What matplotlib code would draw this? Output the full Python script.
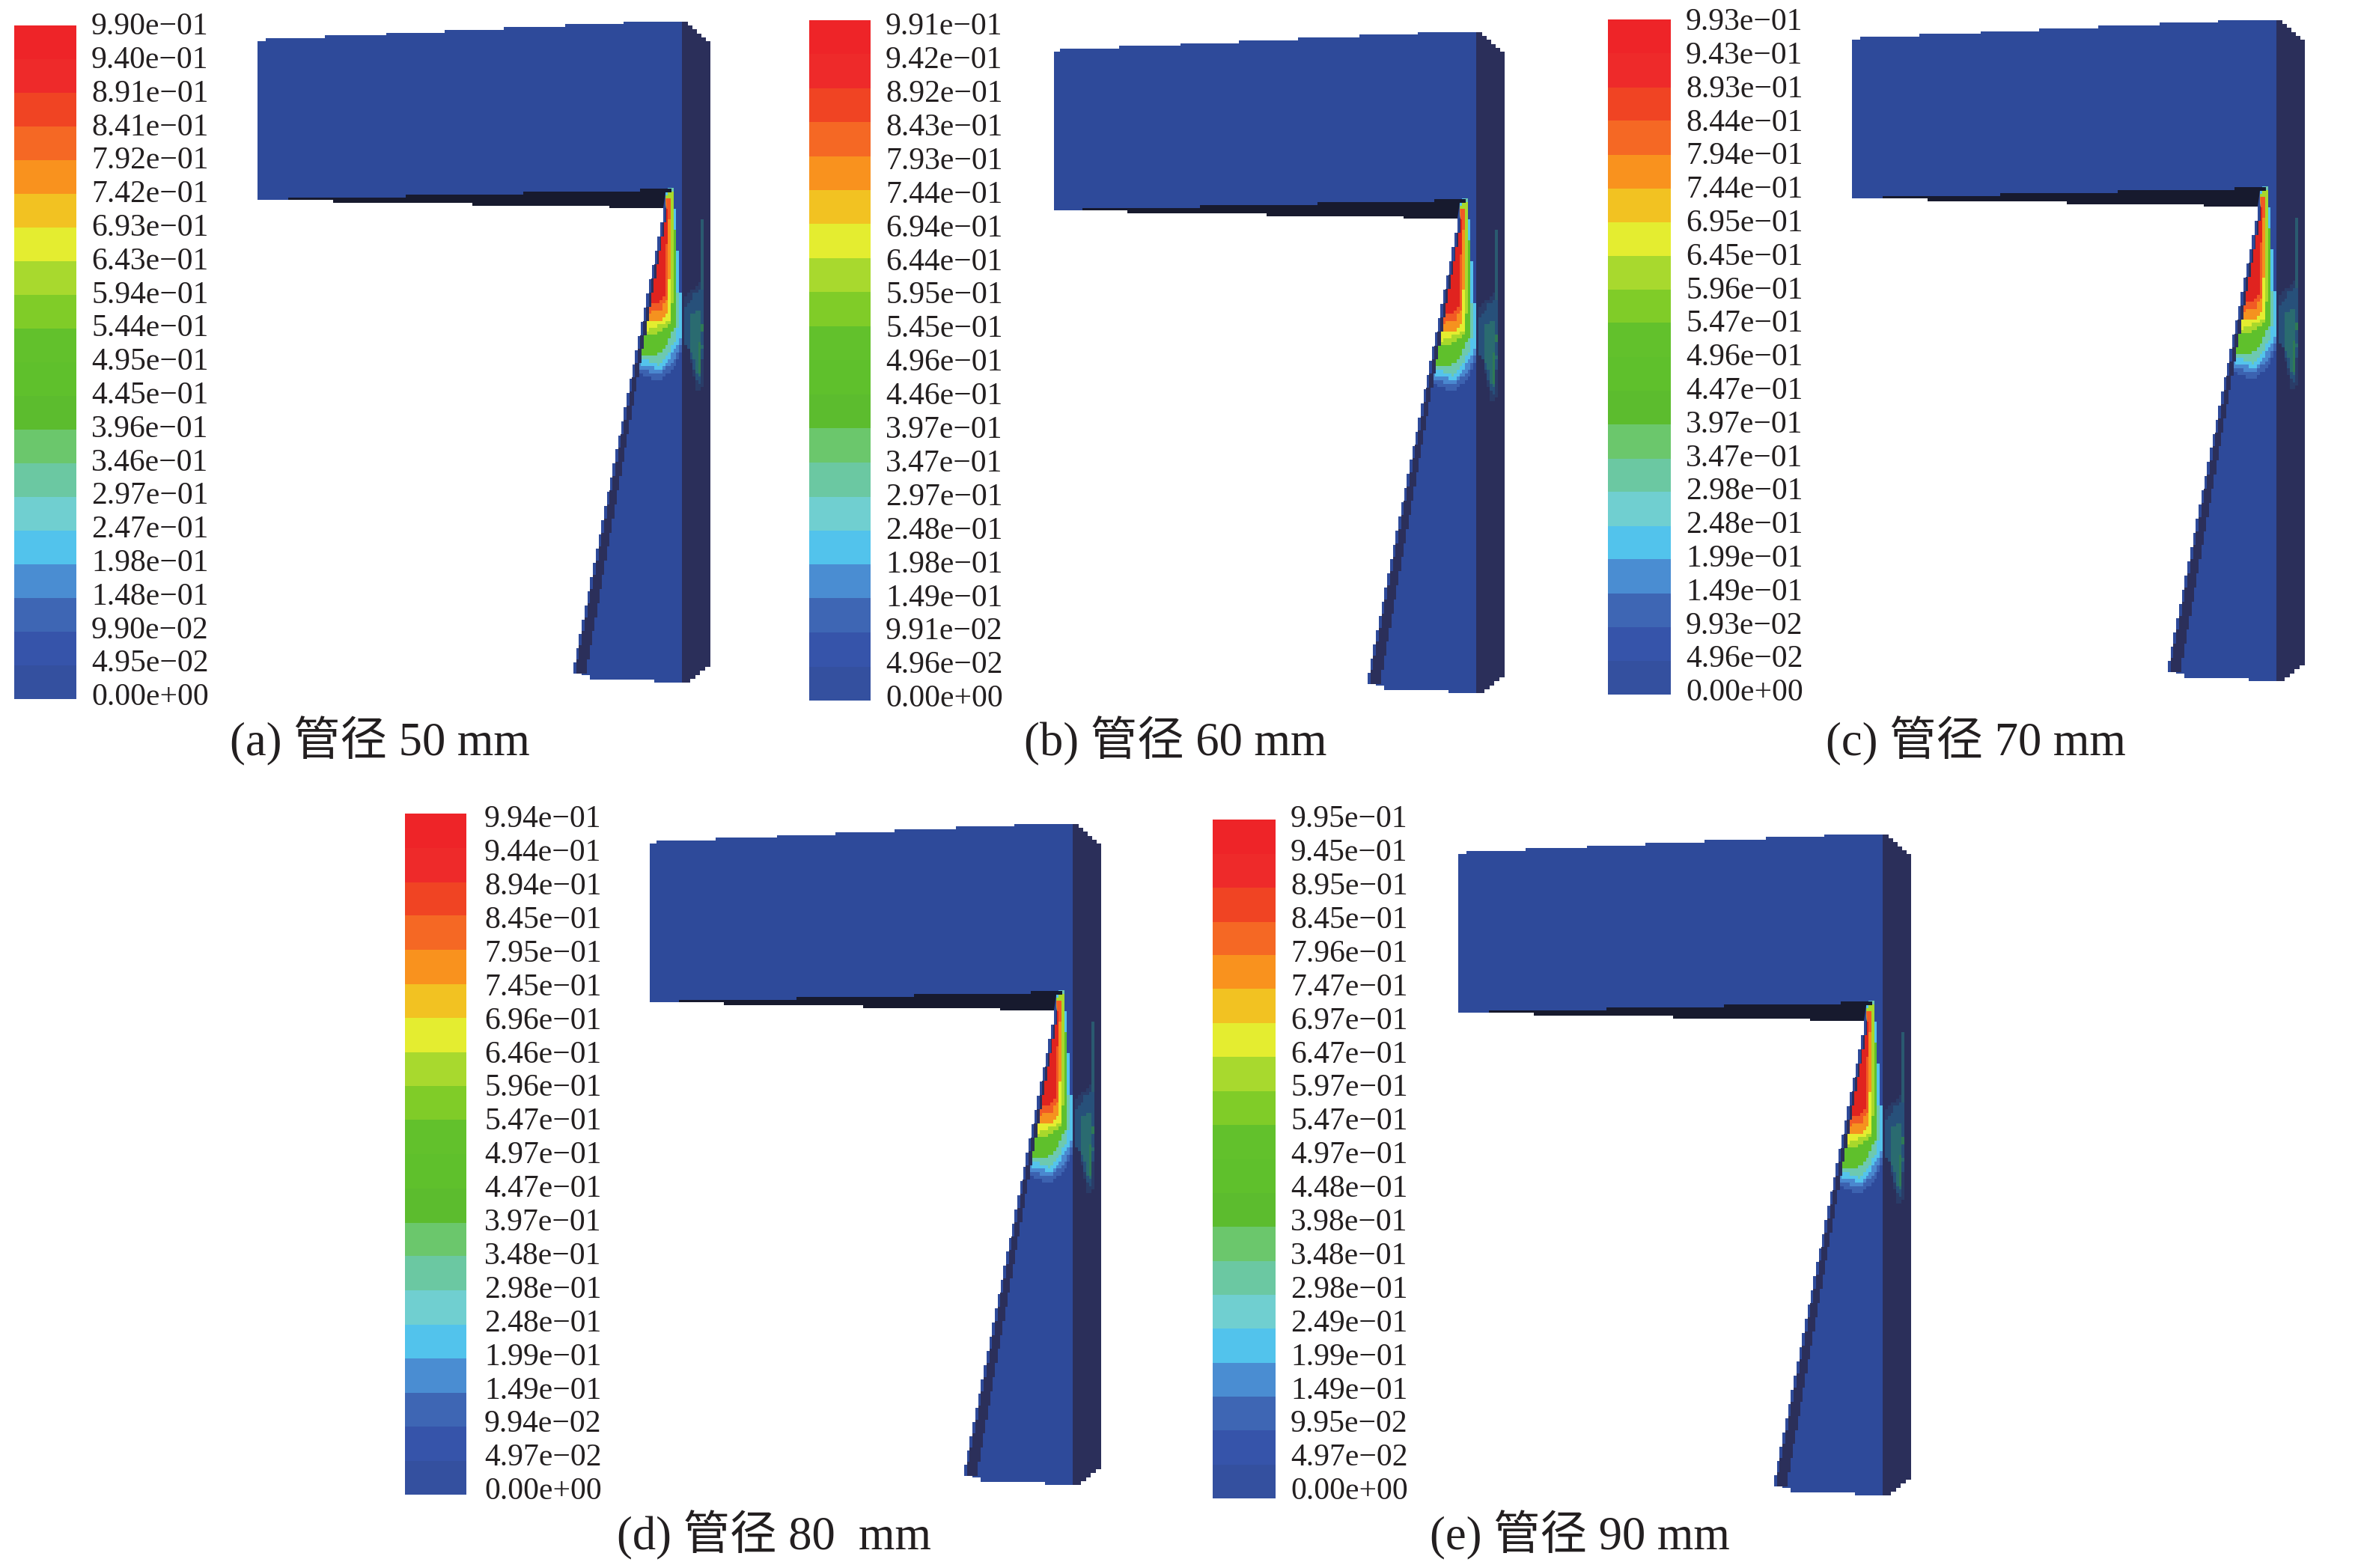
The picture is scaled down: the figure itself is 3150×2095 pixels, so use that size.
import numpy as np
import matplotlib
matplotlib.use('Agg')
import matplotlib.pyplot as plt
from matplotlib.colors import ListedColormap, BoundaryNorm
from matplotlib.patches import Polygon

plt.rcParams['font.family'] = ['Liberation Serif', 'Noto Sans CJK SC']

levels_a = [9.90e-01, 9.40e-01, 8.91e-01, 8.41e-01, 7.92e-01, 7.42e-01, 6.93e-01, 6.43e-01, 5.94e-01, 5.44e-01, 4.95e-01,
            4.45e-01, 3.96e-01, 3.46e-01, 2.97e-01, 2.47e-01, 1.98e-01, 1.48e-01, 9.90e-02, 4.95e-02, 0.0]
levels_b = [9.91e-01, 9.42e-01, 8.92e-01, 8.43e-01, 7.93e-01, 7.44e-01, 6.94e-01, 6.44e-01, 5.95e-01, 5.45e-01, 4.96e-01,
            4.46e-01, 3.97e-01, 3.47e-01, 2.97e-01, 2.48e-01, 1.98e-01, 1.49e-01, 9.91e-02, 4.96e-02, 0.0]
levels_c = [9.93e-01, 9.43e-01, 8.93e-01, 8.44e-01, 7.94e-01, 7.44e-01, 6.95e-01, 6.45e-01, 5.96e-01, 5.47e-01, 4.96e-01,
            4.47e-01, 3.97e-01, 3.47e-01, 2.98e-01, 2.48e-01, 1.99e-01, 1.49e-01, 9.93e-02, 4.96e-02, 0.0]
levels_d = [9.94e-01, 9.44e-01, 8.94e-01, 8.45e-01, 7.95e-01, 7.45e-01, 6.96e-01, 6.46e-01, 5.96e-01, 5.47e-01, 4.97e-01,
            4.47e-01, 3.97e-01, 3.48e-01, 2.98e-01, 2.48e-01, 1.99e-01, 1.49e-01, 9.94e-02, 4.97e-02, 0.0]
levels_e = [9.95e-01, 9.45e-01, 8.95e-01, 8.45e-01, 7.96e-01, 7.47e-01, 6.97e-01, 6.47e-01, 5.97e-01, 5.47e-01, 4.97e-01,
            4.48e-01, 3.98e-01, 3.48e-01, 2.98e-01, 2.49e-01, 1.99e-01, 1.49e-01, 9.95e-02, 4.97e-02, 0.0]

captions = ['(a) 管径 50 mm', '(b) 管径 60 mm', '(c) 管径 70 mm', '(d) 管径 80  mm', '(e) 管径 90 mm']

# top band first
band_colors = ['#ee2428', '#ee2a2a', '#f04423', '#f56824', '#f9921e', '#f2c222', '#e4ed30', '#a8d92e', '#80cc28', '#62c12c',
               '#5fc02c', '#5cbc2e', '#6bc76c', '#6bc8a2', '#70cfd0', '#52c3ec', '#4a8dd2', '#3e66b4', '#3654aa', '#34509f']

FACE = '#2e4a9a'
SIDE = '#2b2f5a'
DARK = '#171a2e'

# pixel layout of each panel: model offset, left edge trim, bar box, label column, caption start
model_off = [(0, 0), (1061, 14), (2130, -2), (522, 1072), (1604, 1086)]
left_trim = [0, 3, 0, 2, 0]
bar_box = [(19, 102, 34, 934), (1081, 1163, 27, 936), (2148, 2232, 26, 928), (541, 623, 1087, 1997), (1620, 1704, 1095, 2002)]
label_col = [(122, 36, 932), (1183, 36, 934), (2252, 30, 926), (647, 1095, 1993), (1724, 1095, 1993)]
caption_pos = [(307, 990), (1368, 990), (2439, 990), (824, 2051), (1910, 2051)]

top_edge = [(355, 51), (434, 51), (434, 47), (516, 47), (516, 44), (594, 44), (594, 40), (673, 40),
            (673, 36), (755, 36), (755, 32), (833, 32), (833, 29), (911, 29)]
under_top = [(385, 264), (542, 264), (542, 260), (699, 260), (699, 256), (855, 256), (855, 252), (897, 252), (897, 257), (889, 257)]
under_bottom = [(886, 278), (814, 278), (814, 275), (631, 275), (631, 271), (445, 271), (445, 267), (385, 267)]
foot_edge = [(911, 912), (874, 912), (874, 908), (788, 908), (788, 902), (777, 902), (777, 900), (766, 900), (766, 904), (762, 904)]

# plume outlines outer to inner in zoom units (x=720+X/3, y=200+Y/3)
# left sides run past the dark strip, the clip cuts them
plume_colors = ['#3c62b0', '#4a88cf', '#54c4ec', '#6dc9b0', '#5fc02c', '#a8d82c', '#e4ed30', '#f5921f', '#f15a24', '#e0231f']
plume_shapes = [
    [(530, 150), (540, 150), (552, 400), (565, 560), (576, 640), (576, 790), (540, 880), (480, 925), (430, 910), (360, 870), (480, 200)],
    [(530, 150), (540, 150), (550, 400), (562, 560), (576, 640), (576, 770), (540, 845), (490, 895), (440, 890), (360, 860), (480, 200)],
    [(530, 150), (540, 150), (548, 300), (558, 450), (568, 600), (573, 700), (565, 770), (520, 840), (485, 885), (450, 872), (360, 850), (480, 200)],
    [(530, 160), (541, 160), (545, 450), (558, 600), (555, 750), (510, 830), (480, 862), (440, 845), (360, 830), (480, 200)],
    [(530, 165), (541, 165), (544, 300), (548, 500), (552, 600), (548, 700), (505, 800), (460, 830), (360, 810), (480, 200)],
    [(525, 170), (538, 170), (538, 400), (535, 590), (530, 690), (490, 730), (450, 740), (380, 760), (480, 200)],
    [(525, 190), (532, 190), (531, 590), (525, 680), (480, 705), (440, 720), (385, 745), (485, 200)],
    [(520, 190), (528, 190), (523, 500), (520, 640), (505, 678), (440, 692), (390, 700), (490, 200)],
    [(515, 195), (526, 195), (518, 400), (515, 600), (490, 640), (445, 652), (400, 680), (495, 200)],
    [(505, 240), (520, 240), (510, 400), (505, 590), (480, 612), (445, 625), (400, 640), (495, 240)],
]
# faint marks on the side face, same zoom units
side_colors = ['#2a3c68', '#2a5a70', '#27507a', '#2a6b70', '#2f7a55']
side_shapes = [
    [(578, 600), (625, 550), (650, 520), (662, 520), (662, 800), (655, 950), (635, 970), (600, 800), (578, 770)],
    [(653, 280), (665, 280), (665, 590), (653, 590)],
    [(578, 650), (625, 570), (660, 560), (660, 800), (642, 950), (600, 800), (578, 770)],
    [(600, 730), (610, 660), (650, 640), (655, 800), (642, 930), (610, 800)],
    [(640, 790), (655, 700), (652, 900), (642, 900)],
]


def stairs(p0, p1, n):
    # stepped outline between two points, the mesh blocks show up like this
    xs = np.linspace(p0[0], p1[0], n + 1)
    ys = np.linspace(p0[1], p1[1], n + 1)
    pts = []
    for i in range(n):
        pts.append((xs[i], ys[i]))
        pts.append((xs[i], ys[i + 1]))
    pts.append((xs[n], ys[n]))
    return pts


def blocky(pts, wx=11, wy=14):
    # snap an outline to the mesh size so contour bands look cell-wise
    out = []
    n = len(pts)
    for i in range(n):
        x0, y0 = pts[i]
        x1, y1 = pts[(i + 1) % n]
        for t in np.linspace(0, 1, 25, endpoint=False):
            x = round((x0 + (x1 - x0) * t) / wx) * wx
            y = round((y0 + (y1 - y0) * t) / wy) * wy
            if out and out[-1] == (x, y):
                continue
            if out and out[-1][0] != x and out[-1][1] != y:
                out.append((x, out[-1][1]))
            out.append((x, y))
    return out


def from_zoom(pts, dx, dy):
    return [(720 + x / 3 + dx, 200 + y / 3 + dy) for x, y in pts]


def shift(pts, dx, dy):
    return [(x + dx, y + dy) for x, y in pts]


def draw_model(ax, dx, dy, trim):
    outer = stairs((886, 278), (762, 904), 33)
    inner = stairs((890, 278), (781, 900), 33)
    strip_left = stairs((889, 278), (766, 900), 33)

    left_top = [(344 + trim, 55), (355, 55)]
    face_pts = left_top + top_edge + foot_edge + outer[::-1] + under_bottom[1:] + [(344 + trim, 267)]
    ax.add_patch(Polygon(shift(face_pts, dx, dy), closed=True, fc=FACE, ec='none', zorder=2))

    # plume stays right of the strip, the thin blue edge left of it keeps the face colour
    clip_pts = [(888, 240), (911, 240), (911, 900)] + inner[::-1]
    clip = Polygon(shift(clip_pts, dx, dy), closed=True, transform=ax.transData)
    for pts, c in zip(plume_shapes, plume_colors):
        p = Polygon(from_zoom(blocky(pts), dx, dy), closed=True, fc=c, ec='none', zorder=3)
        ax.add_patch(p)
        p.set_clip_path(clip)

    under = Polygon(shift(under_top + under_bottom, dx, dy), closed=True, fc=DARK, ec='none', zorder=4)
    ax.add_patch(under)
    strip = Polygon(shift(strip_left + inner[::-1], dx, dy), closed=True, fc=SIDE, ec='none', zorder=4)
    ax.add_patch(strip)

    side_pts = [(911, 29)] + stairs((919, 29), (949, 55), 5) + stairs((949, 886), (915, 912), 5) + [(911, 912)]
    ax.add_patch(Polygon(shift(side_pts, dx, dy), closed=True, fc=SIDE, ec='none', zorder=4))
    for pts, c in zip(side_shapes, side_colors):
        ax.add_patch(Polygon(from_zoom(blocky(pts), dx, dy), closed=True, fc=c, ec='none', zorder=5))


def draw_bar(ax, levels, box, col):
    x0, x1, y_top, y_bot = box
    vals = np.array(levels)
    edges = y_bot - vals / vals[0] * (y_bot - y_top)
    cmap = ListedColormap(band_colors)
    norm = BoundaryNorm(np.arange(21), 20)
    cells = np.arange(20).reshape(-1, 1)
    ax.pcolormesh([x0, x1], edges, cells, cmap=cmap, norm=norm, zorder=2, edgecolors='none')
    lab_x, lab_top, lab_bot = col
    for i, v in enumerate(levels):
        txt = f'{v:.2e}'.replace('-', '\u2212')
        y = lab_top + i * (lab_bot - lab_top) / 20
        ax.text(lab_x, y, txt, fontsize=30, ha='left', va='center', color='#231f20', zorder=6)


fig = plt.figure(figsize=(31.5, 20.95), dpi=100)
ax = fig.add_axes([0, 0, 1, 1])
ax.set_xlim(0, 3150)
ax.set_ylim(2095, 0)
ax.axis('off')

all_levels = [levels_a, levels_b, levels_c, levels_d, levels_e]
for i in range(5):
    draw_bar(ax, all_levels[i], bar_box[i], label_col[i])
    draw_model(ax, model_off[i][0], model_off[i][1], left_trim[i])
    ax.text(caption_pos[i][0], caption_pos[i][1], captions[i], fontsize=45, ha='left', va='center', color='#231f20')

fig.savefig('out.png', dpi=100)
